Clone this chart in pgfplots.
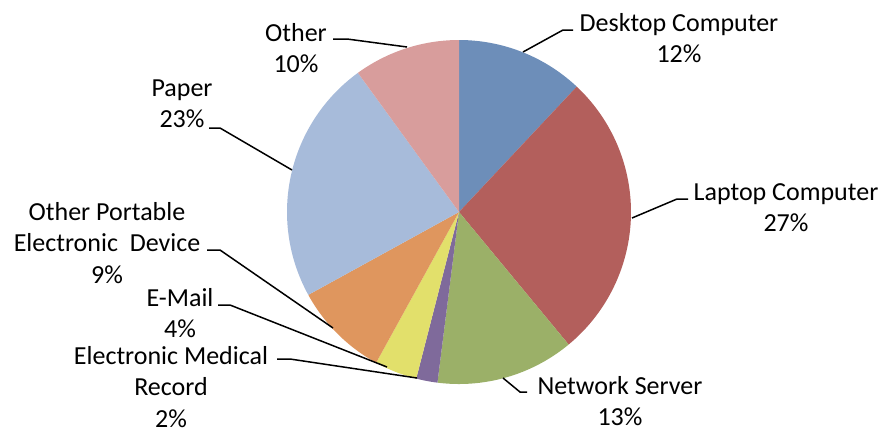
\documentclass[border=0pt]{standalone}
\usepackage{fontspec}
\setmainfont{Carlito}
\usepackage{pgfplots}
\pgfplotsset{compat=1.18}

\definecolor{cDesk}{HTML}{6D8EB9}
\definecolor{cLap}{HTML}{B35F5C}
\definecolor{cNet}{HTML}{9BB068}
\definecolor{cEmr}{HTML}{7F6A9B}
\definecolor{cMail}{HTML}{E2E06B}
\definecolor{cPort}{HTML}{DF965E}
\definecolor{cPaper}{HTML}{A7BBDA}
\definecolor{cOther}{HTML}{D89D9C}

\tikzset{lbl/.style={font=\fontsize{13}{15.6}\selectfont, align=center, inner sep=0pt}}

\begin{document}
\begin{tikzpicture}
\begin{axis}[
    scale only axis,
    width=443.5pt, height=215pt,
    xmin=0, xmax=887, ymin=0, ymax=430,
    y dir=reverse,
    hide axis,
    clip=false,
]
% slices, clockwise from 12 o'clock, shares in percent
\def\startang{90}
\foreach \v/\col in {12/cDesk,27/cLap,13/cNet,2/cEmr,4/cMail,9/cPort,23/cPaper,10/cOther}{
    \pgfmathsetmacro\a{\startang}
    \pgfmathsetmacro\b{\startang-3.6*\v}
    \edef\temp{\noexpand\addplot[fill=\col, draw=none, domain=\b:\a, samples=60]
        ({459+172*cos(x)},{212-172*sin(x)}) -- (axis cs:459,212) -- cycle;}
    \temp
    \xdef\startang{\b}
}

% leader lines
\addplot[black, line width=0.75pt] coordinates {(523,52) (563,30) (573,30)};
\addplot[black, line width=0.75pt] coordinates {(632,218) (677,199) (688,199)};
\addplot[black, line width=0.75pt] coordinates {(503,378) (520,392) (527,392)};
\addplot[black, line width=0.75pt] coordinates {(417,378) (290,359) (277,359)};
\addplot[black, line width=0.75pt] coordinates {(387,367) (230,305) (218,305)};
\addplot[black, line width=0.75pt] coordinates {(333,328) (220,250) (207,250)};
\addplot[black, line width=0.75pt] coordinates {(292,170) (220,128) (209,128)};
\addplot[black, line width=0.75pt] coordinates {(407,47) (347,39) (333,39)};

% labels
\node[lbl] at (axis cs:679,38) {Desktop Computer\\12\%};
\node[lbl] at (axis cs:786,208) {Laptop Computer\\27\%};
\node[lbl] at (axis cs:620,401) {Network Server\\13\%};
\node[lbl] at (axis cs:171,387) {Electronic Medical\\Record\\2\%};
\node[lbl] at (axis cs:180,313) {E-Mail\\4\%};
\node[lbl] at (axis cs:107,243) {Other Portable\\Electronic~ Device\\9\%};
\node[lbl] at (axis cs:182,104) {Paper\\23\%};
\node[lbl] at (axis cs:296,48) {Other\\10\%};
\end{axis}
\pgfresetboundingbox
\useasboundingbox (current axis.south west) rectangle (current axis.north east);
\end{tikzpicture}
\end{document}
